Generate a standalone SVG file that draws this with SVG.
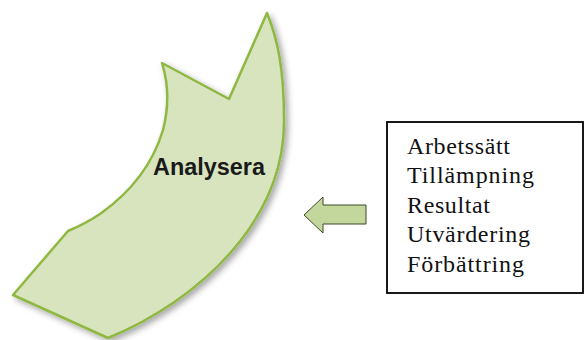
<svg xmlns="http://www.w3.org/2000/svg" width="585" height="340" viewBox="0 0 585 340">
<defs>
<filter id="sh" x="-20%" y="-20%" width="140%" height="140%">
<feDropShadow dx="3" dy="3" stdDeviation="3" flood-color="#000" flood-opacity="0.35"/>
</filter>
<style>
.lbl{font-family:"Liberation Serif","Times New Roman",serif;font-size:24px;fill:#111}
.big{font-family:"Liberation Sans",Arial,sans-serif;font-weight:bold;font-size:23px;fill:#1a1a1a}
</style>
</defs>
<rect width="585" height="340" fill="#fff"/>
<g id="analysera">
<path d="M267,13 L229,99 L162,63 Q172,95 163,130 Q148,180 100,214 Q85,224 68,231 L13,295 L108,338 C200,300 285,220 284,120 C284,70 278,40 267,13 Z" fill="#d7e4bd" stroke="#8fb843" stroke-width="2.5" stroke-linejoin="round" filter="url(#sh)"/>
<text class="big" x="153" y="175" textLength="112" lengthAdjust="spacingAndGlyphs">Analysera</text>
</g>
<g id="connectors">
<path d="M304,215 L323,197 L323,205 L366,205 L366,224 L323,224 L323,233 Z" fill="#c3d69b" stroke="#3f4a2a" stroke-width="1"/>
</g>
<g id="list">
<rect x="387" y="122" width="196" height="171" fill="#fff" stroke="#000" stroke-width="1.8"/>
<text class="lbl" x="407" y="154" textLength="103">Arbetssätt</text>
<text class="lbl" x="407" y="183" textLength="127">Tillämpning</text>
<text class="lbl" x="407" y="212.5" textLength="83">Resultat</text>
<text class="lbl" x="407" y="242" textLength="123">Utvärdering</text>
<text class="lbl" x="407" y="272" textLength="117">Förbättring</text>
</g>
</svg>
